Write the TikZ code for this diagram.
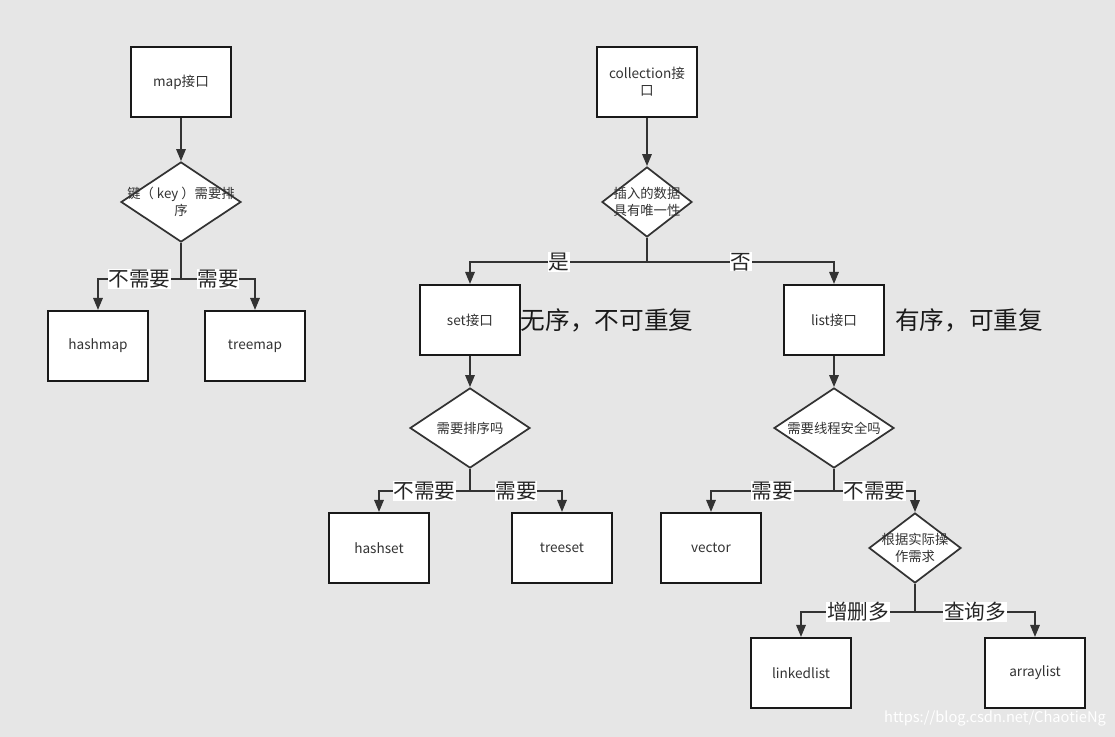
\documentclass[tikz,border=0pt]{standalone}
\usepackage{fontspec}
\setmainfont{Noto Sans CJK SC}
\usepackage{xcolor}
\usetikzlibrary{positioning, arrows.meta, shapes.geometric}
\definecolor{bggray}{HTML}{E6E6E6}
\definecolor{ink}{HTML}{333333}

\begin{document}
\begin{tikzpicture}[x=0.75pt, y=-0.75pt, >={Triangle[length=9pt,width=7pt]},
    box/.style={rectangle, draw=black!90, fill=white, line width=1.5pt, minimum width=75pt, minimum height=52.5pt, inner sep=1pt, align=center, text=ink, font=\fontsize{10.2}{12.5}\selectfont},
    ask/.style={diamond, draw=ink, fill=white, line width=1.3pt, inner sep=0pt, minimum width=90pt, minimum height=60pt},
    asktext/.style={align=center, text=ink, font=\fontsize{10}{12.5}\selectfont},
    lbl/.style={fill=white, inner sep=0.5pt, text=black!85, font=\fontsize{15.5}{18}\selectfont},
    note/.style={text=black!90, font=\fontsize{18.5}{22}\selectfont},
    link/.style={->, draw=ink, line width=1.5pt}]
    \fill[bggray] (0,0) rectangle (1115,737);

    % map side
    \node[box] (map) at (181,82) {map接口};
    \node[ask, label={[asktext]center:键（ key ）需要排\\序}] (mapq) at (181,202) {};
    \node[box] (hashmap) at (98,346) {hashmap};
    \node[box] (treemap) at (255,346) {treemap};

    \draw[link] (map) -- (mapq);
    \draw[link] (mapq.south) -- ++(0,36) -| node[lbl, pos=0.25] {不需要} (hashmap.north);
    \draw[link] (mapq.south) -- ++(0,36) -| node[lbl, pos=0.25] {需要} (treemap.north);

    % collection side
    \node[box] (coll) at (647,82) {collection接\\口};
    \node[ask, minimum width=67.5pt, minimum height=52.5pt, label={[asktext]center:插入的数据\\具有唯一性}] (collq) at (647,202) {};
    \node[box] (set) at (470,320) {set接口};
    \node[box] (list) at (834,320) {list接口};
    \node[note] (setnote) at (607,320) {无序，不可重复};
    \node[note] (listnote) at (969,320) {有序，可重复};

    \draw[link] (coll) -- (collq);
    \draw[link] (collq.south) -- ++(0,24) -| node[lbl, pos=0.25] {是} (set.north);
    \draw[link] (collq.south) -- ++(0,24) -| node[lbl, pos=0.25] {否} (list.north);

    % set branch
    \node[ask, label={[asktext]center:需要排序吗}] (setq) at (470,428) {};
    \node[box] (hashset) at (379,548) {hashset};
    \node[box] (treeset) at (562,548) {treeset};

    \draw[link] (set) -- (setq);
    \draw[link] (setq.south) -- ++(0,22) -| node[lbl, pos=0.25] {不需要} (hashset.north);
    \draw[link] (setq.south) -- ++(0,22) -| node[lbl, pos=0.25] {需要} (treeset.north);

    % list branch
    \node[ask, label={[asktext]center:需要线程安全吗}] (listq) at (834,428) {};
    \node[box] (vector) at (711,548) {vector};
    \node[ask, minimum width=69pt, minimum height=52.5pt, label={[asktext]center:根据实际操\\作需求}] (useq) at (915,548) {};
    \node[box] (linkedlist) at (801,673) {linkedlist};
    \node[box] (arraylist) at (1035,673) {arraylist};

    \draw[link] (list) -- (listq);
    \draw[link] (listq.south) -- ++(0,22) -| node[lbl, pos=0.25] {需要} (vector.north);
    \draw[link] (listq.south) -- ++(0,22) -| node[lbl, pos=0.25] {不需要} (useq.north);
    \draw[link] (useq.south) -- ++(0,28) -| node[lbl, pos=0.25] {增删多} (linkedlist.north);
    \draw[link] (useq.south) -- ++(0,28) -| node[lbl, pos=0.25] {查询多} (arraylist.north);

    \node[text=white, font=\fontsize{11}{12}\selectfont] (mark) at (995,718) {https://blog.csdn.net/ChaotieNg};
\end{tikzpicture}
\end{document}
